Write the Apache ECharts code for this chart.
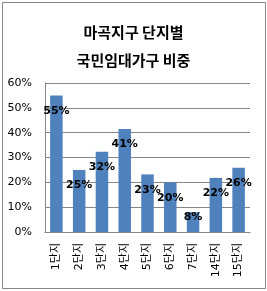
<!DOCTYPE html>
<html>
<head>
<meta charset="utf-8">
<script src="https://cdn.jsdelivr.net/npm/echarts@6/dist/echarts.min.js"></script>
<style>
  html, body { margin: 0; padding: 0; background: #fff; }
  #chart { width: 267px; height: 291px; }
</style>
</head>
<body>
<div id="chart"></div>
<script>
const categories = ['1단지', '2단지', '3단지', '4단지', '5단지', '6단지', '7단지', '14단지', '15단지']
const shares = [55, 25, 32.3, 41.5, 23.2, 20, 8, 21.8, 25.9]
const shareLabels = ['55%', '25%', '32%', '41%', '23%', '20%', '8%', '22%', '26%']

const font = '"DejaVu Sans", "Noto Sans CJK KR", sans-serif'
const chart = echarts.init(document.getElementById('chart'))

chart.setOption({
  animation: false,
  title: {
    text: '마곡지구 단지별\n국민임대가구 비중',
    left: 'center',
    top: 13,
    textStyle: {
      fontFamily: '"Noto Sans CJK KR", sans-serif',
      fontSize: 15,
      fontWeight: 'bold',
      lineHeight: 28,
      color: '#000'
    }
  },
  graphic: [{
    type: 'rect',
    shape: { x: 2.5, y: 2.5, width: 263, height: 286 },
    style: { fill: 'none', stroke: '#868686', lineWidth: 1 },
    silent: true
  }],
  grid: { left: 45, right: 17, top: 83, bottom: 59 },
  xAxis: {
    type: 'category',
    data: categories,
    axisLine: { lineStyle: { color: '#868686' } },
    axisTick: { show: false },
    axisLabel: {
      rotate: 90,
      interval: 0,
      margin: 11,
      fontSize: 11,
      fontFamily: font,
      color: '#000'
    }
  },
  yAxis: {
    type: 'value',
    min: 0,
    max: 60,
    interval: 10,
    axisLine: { show: true, lineStyle: { color: '#868686' } },
    axisTick: { show: false },
    splitLine: { lineStyle: { color: '#868686' } },
    axisLabel: {
      formatter: '{value}%',
      margin: 13,
      fontSize: 11,
      fontFamily: font,
      color: '#000'
    }
  },
  series: [{
    type: 'bar',
    barWidth: 12.5,
    itemStyle: { color: '#4F81BD' },
    data: shares.map((v, i) => ({
      value: v,
      label: i === 6 ? { distance: 0 } : undefined
    })),
    label: {
      show: true,
      position: 'insideTop',
      distance: 10,
      formatter: p => shareLabels[p.dataIndex],
      fontSize: 11,
      fontWeight: 'bold',
      fontFamily: font,
      color: '#000'
    }
  }]
})
</script>
</body>
</html>
